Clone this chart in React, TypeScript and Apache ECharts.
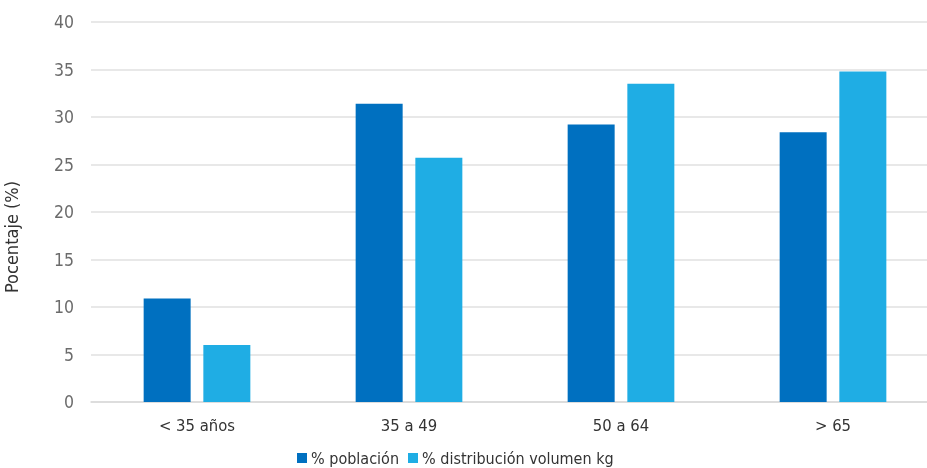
import React, { useEffect, useRef } from "react";
import * as echarts from "echarts";

const categories = ["< 35 años", "35 a 49", "50 a 64", "> 65"];
const poblacion = [10.9, 31.4, 29.2, 28.4];
const distribucion = [6.0, 25.7, 33.5, 34.8];
const seriesNames = ["% población", "% distribución volumen kg"];
const yTicks = { min: 0, max: 40, interval: 5 };
const yTitle = "Pocentaje (%)";

const FONT = "'DejaVu Sans Condensed', 'DejaVu Sans', sans-serif";

export default function App() {
  const ref = useRef<HTMLDivElement>(null);
  useEffect(() => {
    if (!ref.current) return;
    const chart = echarts.init(ref.current, undefined, { renderer: "svg" });
    chart.setOption({
      animation: false,
      textStyle: { fontFamily: FONT },
      grid: { left: 91, top: 22, width: 848, height: 380, containLabel: false },
      legend: {
        top: 449,
        left: 297,
        padding: 0,
        itemWidth: 10,
        itemHeight: 10,
        itemGap: 9,
        icon: "rect",
        textStyle: { fontFamily: FONT, fontSize: 16, color: "#333", padding: [0, 0, 0, -1], lineHeight: 18 },
        data: seriesNames,
      },
      graphic: [
        {
          type: "text",
          x: 11,
          y: 237,
          rotation: Math.PI / 2,
          style: {
            text: yTitle,
            fontFamily: FONT,
            fontSize: 18,
            fill: "#333",
            align: "center",
            verticalAlign: "middle",
          },
        },
      ],
      xAxis: {
        type: "category",
        data: categories,
        axisTick: { show: false },
        axisLine: { lineStyle: { color: "#d9d9d9", width: 1.5 } },
        axisLabel: { fontFamily: FONT, fontSize: 16.5, color: "#333", margin: 15 },
      },
      yAxis: {
        type: "value",
        min: yTicks.min,
        max: yTicks.max,
        interval: yTicks.interval,
        axisLine: { show: false },
        axisTick: { show: false },
        axisLabel: { fontFamily: FONT, fontSize: 17.5, color: "#6b6b6b", margin: 17 },
        splitLine: { lineStyle: { color: "#e0e0e0", width: 1.5 } },
      },
      series: [
        {
          name: seriesNames[0],
          type: "bar",
          data: poblacion,
          barWidth: 47,
          barGap: "27%",
          itemStyle: { color: "#0070C0" },
        },
        {
          name: seriesNames[1],
          type: "bar",
          data: distribucion,
          barWidth: 47,
          barGap: "27%",
          itemStyle: { color: "#1FADE4" },
        },
      ],
    });
    return () => chart.dispose();
  }, []);
  return (
    <div style={{ position: "fixed", left: 0, top: 0, width: 927, height: 468, overflow: "hidden" }}>
      <div ref={ref} style={{ width: 940, height: 468 }} />
    </div>
  );
}
